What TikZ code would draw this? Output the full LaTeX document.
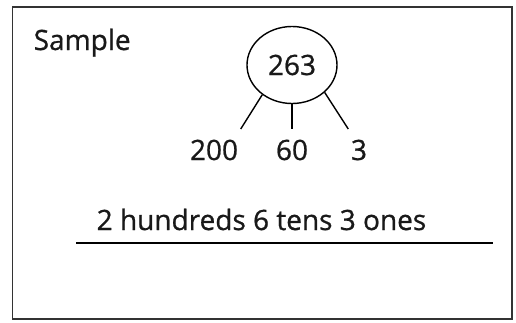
\documentclass[tikz,border=0pt]{standalone}
\usepackage{fontspec}
\setmainfont{Open Sans}[FakeBold=0.8]
\usetikzlibrary{shapes.geometric}
\tikzset{
  txt/.style={font=\fontsize{28}{32}\selectfont,text=black!90,inner sep=0pt},
  part/.style={txt,inner xsep=2pt,inner ysep=10pt,anchor=base}
}
\begin{document}
\begin{tikzpicture}[x=1pt,y=-1pt,line width=1.4pt]
    \useasboundingbox (0,0) rectangle (516,322);
    \draw[black!80,line width=1.2pt] (12.5,7) rectangle (512,319);
    \node[txt,anchor=base west] (sample) at (33,50) {Sample};
    \node[txt,draw,ellipse,minimum width=90pt,minimum height=77pt] (whole) at (292,65) {263};
    \foreach \v/\x/\ang/\anc in {200/214/225/north east,60/292/270/north,3/359/320/north west}{
      \node[part] (p\v) at (\x,160) {\v};
      \draw (whole.\ang) -- (p\v.\anc);
    }
    \node[txt,anchor=base west] (words) at (96,230) {2 hundreds 6 tens 3 ones};
    \coordinate (ul) at (76,243);
    \coordinate (ur) at (493,243);
    \draw[line width=2pt] (ul) -- (ur);
\end{tikzpicture}
\end{document}
